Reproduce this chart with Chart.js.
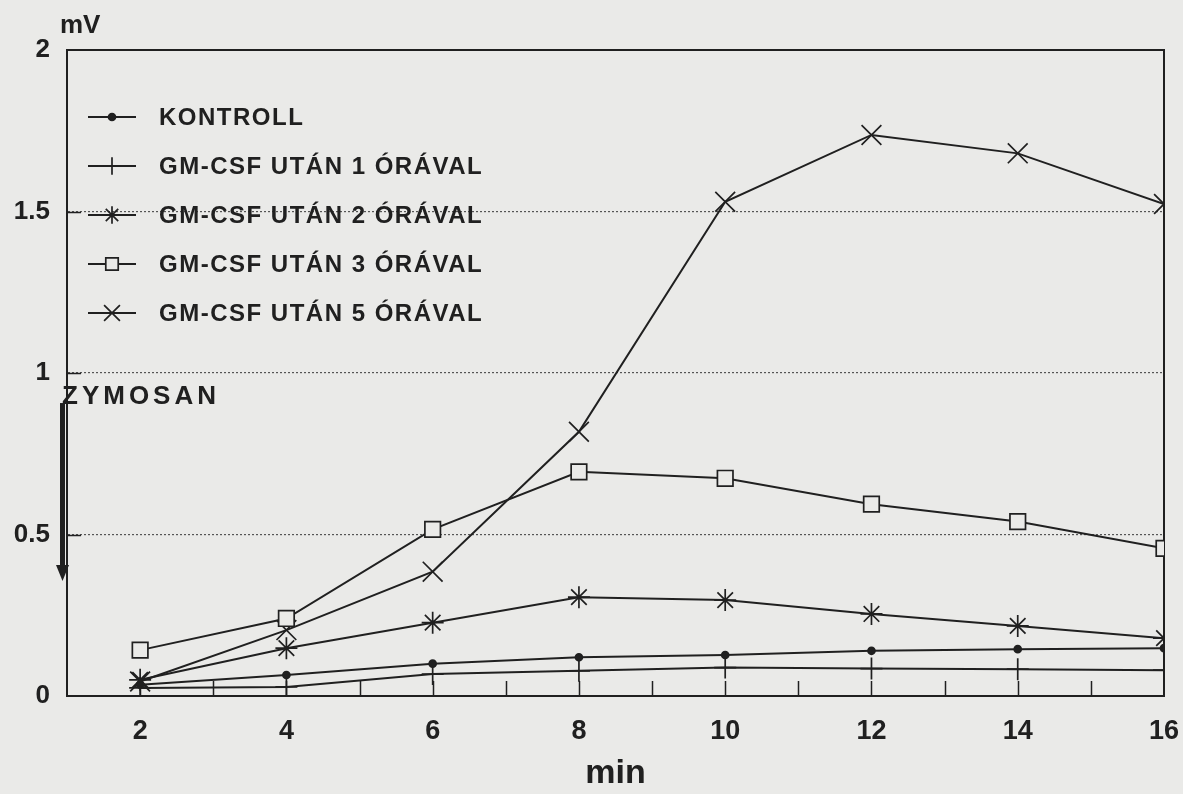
<!DOCTYPE html>
<html>
<head>
<meta charset="utf-8">
<title>ZYMOSAN – GM-CSF</title>
<script src="https://cdn.jsdelivr.net/npm/chart.js@4.4.1/dist/chart.umd.min.js"></script>
<style>
  html, body { margin: 0; padding: 0; background: #eaeae8; }
  #wrap { width: 1183px; height: 794px; }
</style>
</head>
<body>
<div id="wrap"><canvas id="chart" width="1183" height="794"></canvas></div>
<script>
// minutes after zymosan, mV
const minutes = [2, 4, 6, 8, 10, 12, 14, 16];
const kontroll = [0.035, 0.065, 0.100, 0.120, 0.127, 0.140, 0.145, 0.148];
const ora1 = [0.025, 0.028, 0.068, 0.078, 0.088, 0.085, 0.083, 0.080];
const ora2 = [0.050, 0.148, 0.227, 0.306, 0.297, 0.254, 0.217, 0.179];
const ora3 = [0.142, 0.240, 0.516, 0.694, 0.674, 0.594, 0.540, 0.457];
const ora5 = [0.045, 0.204, 0.385, 0.818, 1.530, 1.737, 1.680, 1.523];

const seriesLabels = [
  'KONTROLL',
  'GM-CSF UTÁN 1 ÓRÁVAL',
  'GM-CSF UTÁN 2 ÓRÁVAL',
  'GM-CSF UTÁN 3 ÓRÁVAL',
  'GM-CSF UTÁN 5 ÓRÁVAL'
];
const xTickLabels = ['2', '4', '6', '8', '10', '12', '14', '16'];
const yTickValues = [0, 0.5, 1, 1.5, 2];
const yTickLabels = ['0', '0.5', '1', '1.5', '2'];

const ink = '#202020';
const paper = '#eaeae8';
const face = '"Liberation Sans", Arial, Helvetica, sans-serif';

function series(label, values, style, radius, fill) {
  return {
    label: label,
    data: minutes.map((m, i) => ({ x: m, y: values[i] })),
    borderColor: ink,
    borderWidth: 2,
    tension: 0,
    fill: false,
    pointStyle: style,
    pointRadius: radius,
    pointHoverRadius: radius,
    pointBorderColor: ink,
    pointBackgroundColor: fill,
    pointBorderWidth: 1.7
  };
}

const datasets = [
  series(seriesLabels[0], kontroll, 'circle', 3.5, ink),
  series(seriesLabels[1], ora1, 'cross', 11, ink),
  series(seriesLabels[2], ora2, 'star', 11, ink),
  series(seriesLabels[3], ora3, 'rect', 11, paper),
  series(seriesLabels[4], ora5, 'crossRot', 14, ink)
];

// frame, inward ticks, legend and the zymosan mark
const extras = {
  id: 'extras',
  beforeDatasetsDraw(chart) {
    const { ctx, chartArea: a, scales: { x, y } } = chart;
    ctx.save();
    ctx.strokeStyle = ink;
    ctx.lineWidth = 2;
    ctx.strokeRect(a.left, a.top, a.right - a.left, a.bottom - a.top);
    ctx.beginPath();
    x.ticks.forEach(t => {
      if (t.value <= x.min || t.value >= x.max) return;
      const px = Math.round(x.getPixelForValue(t.value)) + 0.5;
      ctx.moveTo(px, a.bottom);
      ctx.lineTo(px, a.bottom - 15);
    });
    y.ticks.forEach(t => {
      if (t.value <= y.min || t.value >= y.max) return;
      const py = Math.round(y.getPixelForValue(t.value)) + 0.5;
      ctx.moveTo(a.left, py);
      ctx.lineTo(a.left + 14, py);
    });
    ctx.lineWidth = 1.5;
    ctx.stroke();
    ctx.restore();
  },
  afterDatasetsDraw(chart) {
    const { ctx, chartArea: a, scales: { y } } = chart;
    const drawPoint = Chart.helpers.drawPoint;
    ctx.save();

    // legend
    ctx.font = 'bold 24px ' + face;
    ctx.textBaseline = 'middle';
    ctx.textAlign = 'left';
    if ('letterSpacing' in ctx) ctx.letterSpacing = '1.5px';
    chart.data.datasets.forEach((ds, i) => {
      const ly = 117 + i * 49;
      ctx.strokeStyle = ink;
      ctx.lineWidth = 2;
      ctx.beginPath();
      ctx.moveTo(88, ly);
      ctx.lineTo(136, ly);
      ctx.stroke();
      ctx.fillStyle = ds.pointBackgroundColor;
      ctx.lineWidth = ds.pointBorderWidth;
      drawPoint(ctx, {
        pointStyle: ds.pointStyle,
        radius: ds.pointStyle === 'circle' ? ds.pointRadius : ds.pointRadius * 0.8,
        rotation: 0,
        borderWidth: ds.pointBorderWidth
      }, 112, ly);
      ctx.fillStyle = ink;
      ctx.fillText(ds.label, 159, ly + 1);
    });
    if ('letterSpacing' in ctx) ctx.letterSpacing = '0px';

    // unit
    ctx.textBaseline = 'alphabetic';
    ctx.font = 'bold 26px ' + face;
    ctx.fillText('mV', 60, 33);

    // ZYMOSAN arrow
    const top = y.getPixelForValue(0.907);
    const tip = y.getPixelForValue(0.356);
    if ('letterSpacing' in ctx) ctx.letterSpacing = '4px';
    ctx.font = 'bold 26px ' + face;
    ctx.fillText('ZYMOSAN', 62, top + 1);
    if ('letterSpacing' in ctx) ctx.letterSpacing = '0px';
    ctx.fillStyle = ink;
    ctx.fillRect(a.left - 7, top, 5, tip - top - 14);
    ctx.beginPath();
    ctx.moveTo(a.left - 11, tip - 16);
    ctx.lineTo(a.left + 2, tip - 16);
    ctx.lineTo(a.left - 4.5, tip);
    ctx.closePath();
    ctx.fill();
    ctx.restore();
  }
};

new Chart(document.getElementById('chart'), {
  type: 'line',
  data: { datasets: datasets },
  options: {
    responsive: false,
    animation: false,
    events: [],
    layout: { padding: { top: 50, right: 19, left: 0, bottom: 0 } },
    plugins: { legend: { display: false }, tooltip: { enabled: false } },
    scales: {
      x: {
        type: 'linear',
        min: 1,
        max: 16,
        afterFit: s => {
          s.height = 98;
          s.paddingLeft = 0;
          s.paddingRight = 0;
        },
        afterBuildTicks: s => {
          const t = [];
          for (let v = 1; v <= 16; v++) t.push({ value: v });
          s.ticks = t;
        },
        ticks: {
          autoSkip: false,
          maxRotation: 0,
          padding: 19,
          color: ink,
          font: { family: face, size: 27, weight: 'bold' },
          callback: v => {
            const i = minutes.indexOf(v);
            return i >= 0 ? xTickLabels[i] : '';
          }
        },
        grid: { display: false, drawTicks: false },
        border: { display: true, color: ink, width: 2 },
        title: {
          display: true,
          text: 'min',
          color: ink,
          font: { family: face, size: 34, weight: 'bold' },
          padding: { top: 0, bottom: 0 }
        }
      },
      y: {
        min: 0,
        max: 2,
        afterFit: s => { s.width = 67; },
        afterBuildTicks: s => { s.ticks = yTickValues.map(v => ({ value: v })); },
        ticks: {
          padding: 17,
          color: ink,
          font: { family: face, size: 26, weight: 'bold' },
          callback: v => yTickLabels[yTickValues.indexOf(v)]
        },
        grid: { color: '#555', lineWidth: 1.2, drawTicks: false },
        border: { display: true, color: ink, width: 2, dash: [2, 2] }
      }
    }
  },
  plugins: [extras]
});
</script>
</body>
</html>
